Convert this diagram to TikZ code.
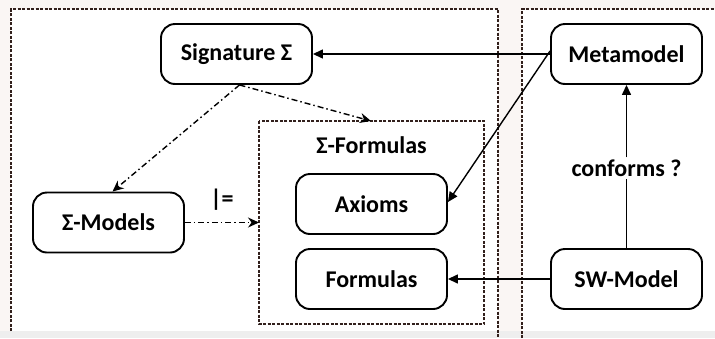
\documentclass[tikz,border=0pt]{standalone}
\usepackage{fontspec}
\setmainfont{Carlito}
\usetikzlibrary{arrows.meta}
\definecolor{framec}{RGB}{50,32,28}
\definecolor{paper}{RGB}{250,246,244}
\definecolor{band}{RGB}{238,238,238}
\tikzset{
  box/.style={draw, line width=1.9pt, rounded corners=14pt, fill=white,
    minimum width=151pt, minimum height=60pt, inner sep=0pt,
    font=\fontsize{24}{28}\selectfont\bfseries},
  frame/.style={draw=framec, line width=1.2pt, dash pattern=on 3pt off 1.5pt},
  solidarr/.style={line width=1.4pt, -{Triangle[length=10pt,width=9pt]}},
  dasharr/.style={line width=1.4pt, dash pattern=on 6pt off 3pt on 1.5pt off 3pt,
    -{Stealth[length=11pt,width=10pt]}},
  lbl/.style={font=\fontsize{24}{28}\selectfont\bfseries, inner sep=2pt}
}
\begin{document}
\begin{tikzpicture}[x=1pt,y=-1pt]
  \useasboundingbox (0,0) rectangle (715,338);
  \fill[paper] (0,0) rectangle (715,338);
  \fill[band] (0,331) rectangle (715,338);
  % panels
  \fill[white] (11,9) rectangle (498,331);
  \fill[white] (522,9) rectangle (715,331);
  \draw[frame] (11,331) -- (11,9) -- (498,9) -- (498,338);
  \draw[frame] (522,338) -- (522,9) -- (716,9);
  \draw[frame] (259,121) rectangle (484,324);

  % nodes
  \node[box] (sig)  at (236.5,54)  {Signature Σ};
  \node[box] (meta) at (626.5,54)  {Metamodel};
  \node[box] (mods) at (108.5,222.5) {Σ-Models};
  \node[box] (ax)   at (371.5,204) {Axioms};
  \node[box] (form) at (371.5,279) {Formulas};
  \node[box] (sw)   at (626.5,279) {SW-Model};
  \coordinate (fbox-top) at (371,121);
  \coordinate (fbox-west) at (259,222.5);
  \node[lbl] (ftitle) at (371.5,145) {Σ-Formulas};

  % connectors
  \draw[solidarr] (meta.west) -- (sig.east);
  \draw[solidarr] ([yshift=3pt]meta.west) -- ([yshift=2pt]ax.east);
  \draw[solidarr] (sw.west) -- (form.east);
  \node[lbl, fill=white] (conf) at (626.5,168) {conforms ?};
  \draw[line width=1.4pt] (sw.north) -- (conf.south);
  \draw[solidarr] (conf.north) -- (meta.south);
  \draw[dasharr] ([xshift=3pt]sig.south) -- ([xshift=4pt]mods.north);
  \draw[dasharr] ([xshift=3pt]sig.south) -- (fbox-top);
  \draw[dasharr] (mods.east) -- (fbox-west);
  \node[lbl] (sat) at (222,200) {|=};
\end{tikzpicture}
\end{document}
